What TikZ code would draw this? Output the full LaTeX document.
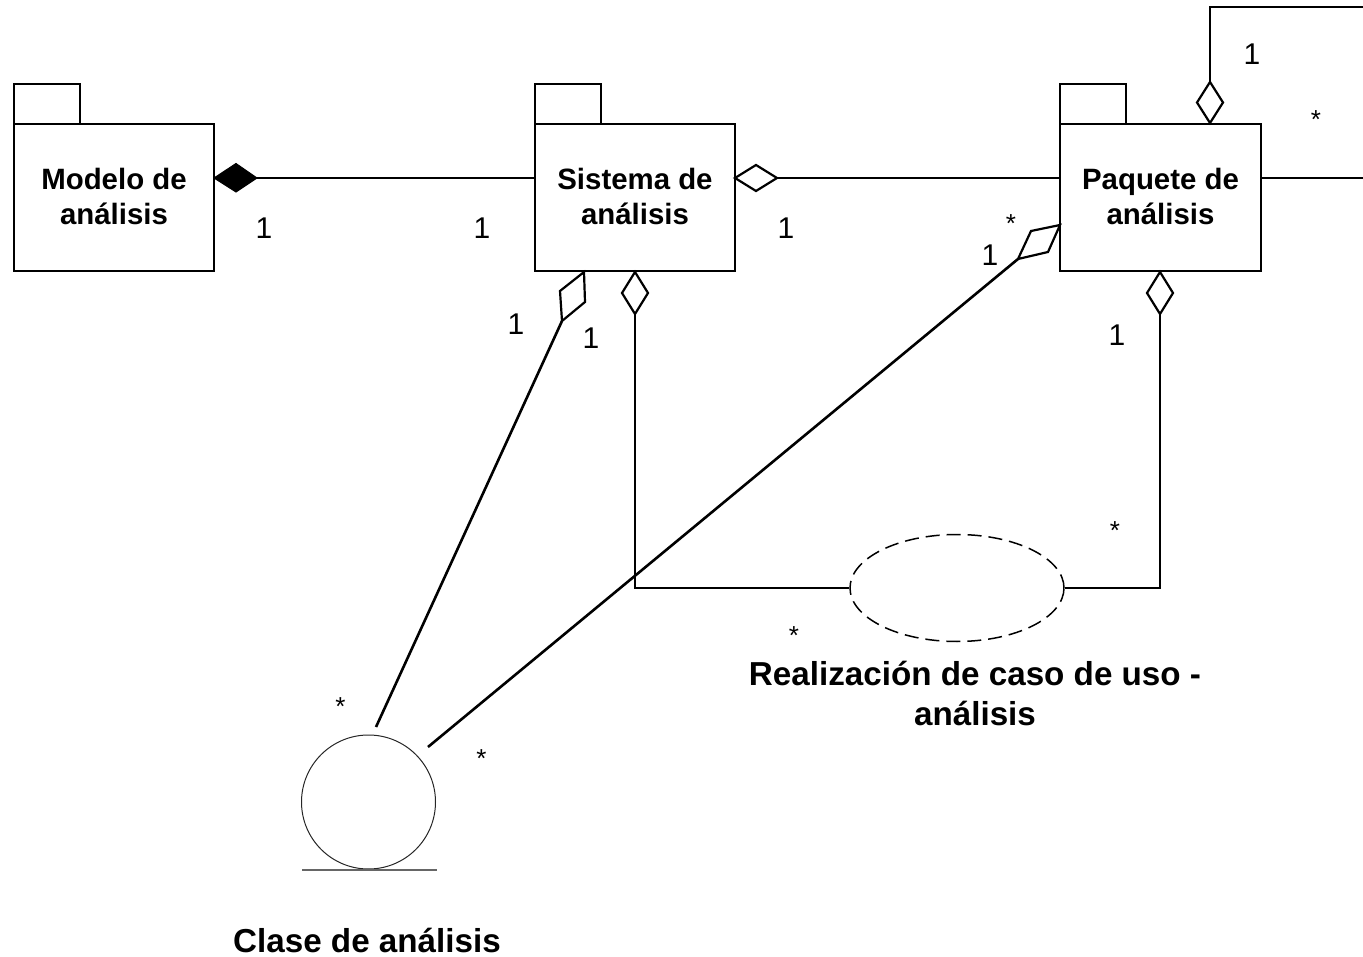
\documentclass[tikz,border=0pt]{standalone}
\usepackage{fontspec}
\setmainfont{Liberation Sans}
\usetikzlibrary{shapes.geometric}
\tikzset{
  x=1pt,y=-1pt,
  line/.style={line width=2pt,black,line join=miter},
  pkg/.style={draw=black,line width=2.6pt,fill=white,minimum width=200pt,minimum height=147pt,inner sep=0pt,align=center,text depth=2pt,font=\fontsize{29.4}{35}\selectfont\bfseries},
  tabbox/.style={draw=black,line width=2.6pt,minimum width=66pt,minimum height=40pt,inner sep=0pt},
  aggr/.style={draw=black,line width=2.2pt,fill=white,line join=miter},
  comp/.style={draw=black,line width=1pt,fill=black,line join=miter},
  one/.style={font=\fontsize{30}{32}\selectfont,inner sep=0pt},
  many/.style={font=\fontsize{26}{28}\selectfont,inner sep=0pt},
  title/.style={font=\fontsize{33.2}{40}\selectfont\bfseries,align=center,inner sep=0pt}
}
\begin{document}
\begin{tikzpicture}
\useasboundingbox (0,0) rectangle (1363,957);
% packages
\node[tabbox] (tabM) at (47,104) {};
\node[tabbox] (tabS) at (568,104) {};
\node[tabbox] (tabP) at (1093,104) {};
\node[pkg] (modelo) at (114,197.5) {Modelo de\\análisis};
\node[pkg] (sistema) at (635,197.5) {Sistema de\\análisis};
\node[pkg,minimum width=201pt] (paquete) at (1160.5,197.5) {Paquete de\\análisis};
% use-case realization and class
\node[ellipse,draw=black,dash pattern=on 14pt off 7pt,line width=1.5pt,minimum width=214pt,minimum height=107pt,inner sep=0pt] (real) at (957,588) {};
\node[circle,draw=black!85,line width=1pt,minimum size=134pt,inner sep=0pt] (clase) at (368.5,802) {};
\coordinate (baseL) at (302,870);
\coordinate (baseR) at (437,870);
\draw[black!60,line width=1.4pt] (baseL) -- (baseR);
% free ends
\coordinate (edgeR) at (1363,178);
\coordinate (topR) at (1363,7);
\coordinate (topC) at (1210,7);
\coordinate (d1) at (257,178);
\coordinate (d2) at (777,178);
\coordinate (d3) at (1210,82);
\coordinate (d4) at (635,314);
\coordinate (d5) at (1160,314);
\coordinate (d6) at (562,321);
\coordinate (d7) at (1018,259);
\coordinate (c1) at (376,727);
\coordinate (c2) at (428,747);
\coordinate (j1) at (635,588);
\coordinate (j2) at (1160,588);
% connectors
\draw[line] (d1) -- (d1 -| sistema.west);
\draw[line] (d2) -- (d2 -| paquete.west);
\draw[line] (paquete.east |- edgeR) -- (edgeR);
\draw[line] (d3) -- (topC) -- (topR);
\draw[line] (d4) -- (j1) -- (real.west);
\draw[line] (d5) -- (j2) -- (real.east);
\draw[line,line width=2.6pt] (d6) -- (c1);
\draw[line,line width=2.6pt] (d7) -- (c2);
% diamonds
\draw[comp] (214,178) -- (236,163.5) -- (d1) -- (236,192) -- cycle;
\draw[aggr] (735,178) -- (756,165) -- (d2) -- (756,191) -- cycle;
\draw[aggr] (1210,123) -- (1197,102.5) -- (d3) -- (1223,102.5) -- cycle;
\draw[aggr] (635,272) -- (622,293) -- (d4) -- (648,293) -- cycle;
\draw[aggr] (1160,272) -- (1147,293) -- (d5) -- (1173,293) -- cycle;
\draw[aggr] (584,272) -- (560,291) -- (d6) -- (585,302) -- cycle;
\draw[aggr] (1060,225) -- (1031,231) -- (d7) -- (1048,252) -- cycle;
% multiplicities
\node[one] (o1) at (264,228) {1};
\node[one] (o2) at (482,228) {1};
\node[one] (o3) at (786,228) {1};
\node[one] (o4) at (1252,54) {1};
\node[one] (o5) at (990,255) {1};
\node[one] (o6) at (516,324) {1};
\node[one] (o7) at (591,338) {1};
\node[one] (o8) at (1117,335) {1};
\node[many] (m1) at (1316,120) {*};
\node[many] (m2) at (1011,224) {*};
\node[many] (m3) at (1115,531) {*};
\node[many] (m4) at (794,636) {*};
\node[many] (m5) at (340.5,707) {*};
\node[many] (m6) at (481.5,759) {*};
% titles
\node[title] (treal) at (975,693) {Realización de caso de uso -\\análisis};
\node[title] (tclase) at (367,940) {Clase de análisis};
\end{tikzpicture}
\end{document}
